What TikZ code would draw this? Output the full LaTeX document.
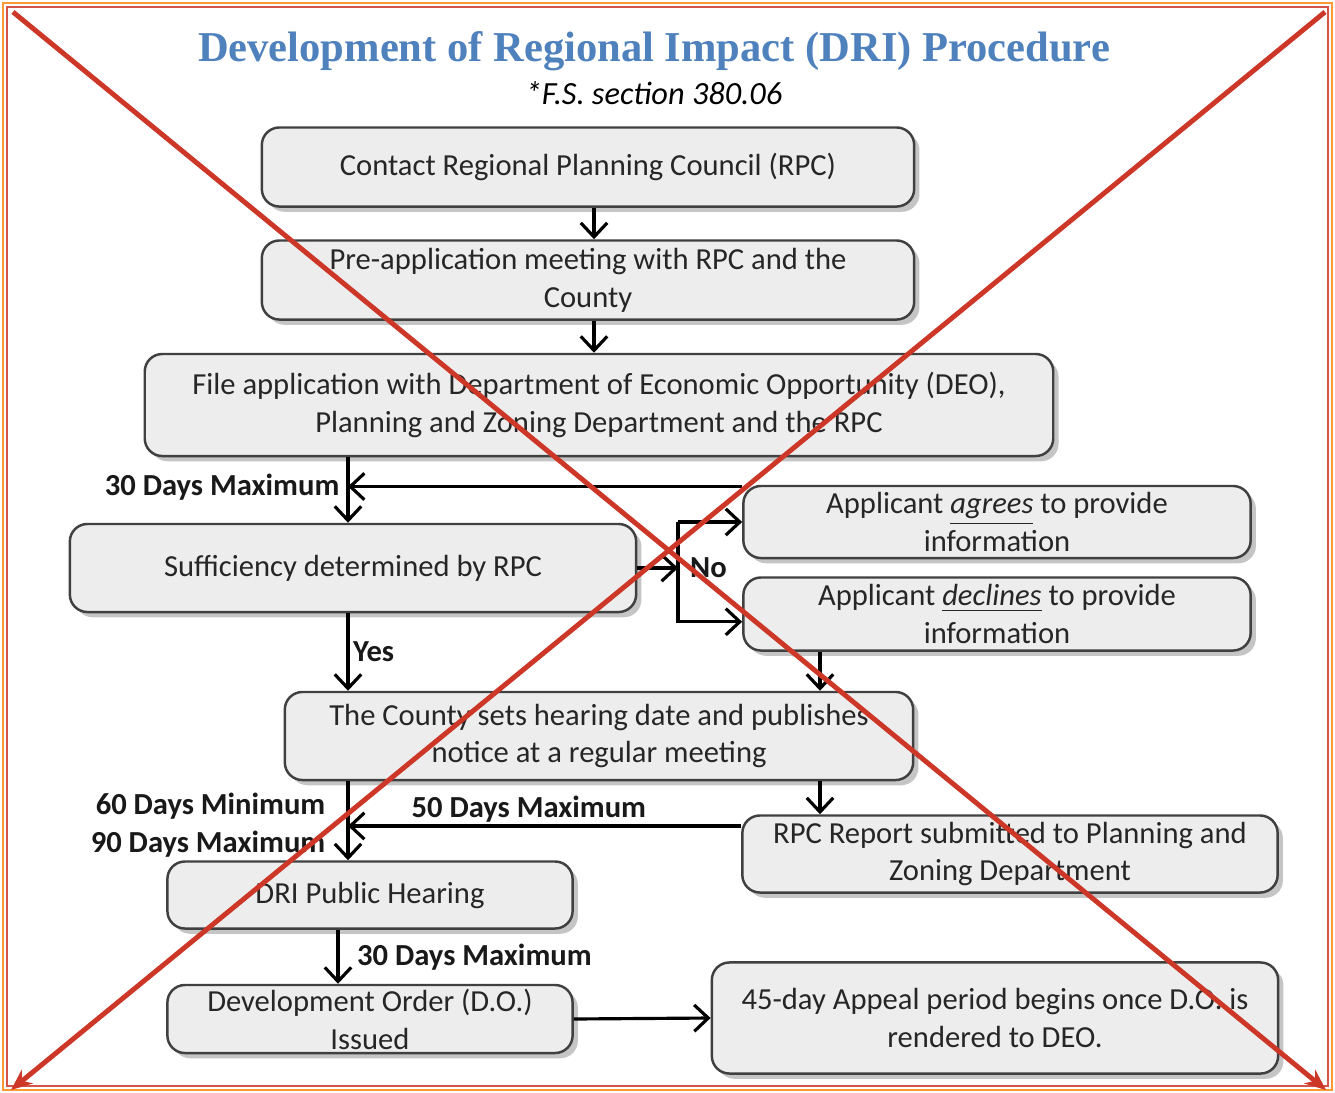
\documentclass[tikz,border=0pt]{standalone}
\usepackage{fontspec}
\setmainfont{Carlito}
\newfontfamily\titlefont{Liberation Serif}
\usepackage{tikz}
\usetikzlibrary{positioning, calc, arrows.meta, shadows}
\definecolor{dritblue}{RGB}{79,129,189}
\definecolor{xred}{RGB}{205,55,40}
\tikzset{dbox/.style={rounded corners=5, draw=black!75, line width=0.7pt, fill=black!7, drop shadow={shadow xshift=1.5pt, shadow yshift=-1.5pt, opacity=0.45}, align=center, inner sep=0pt, text=black!85, font=\fontsize{8.7}{10.8}\selectfont}}
\tikzset{arr/.style={draw, line width=0.9pt, -{Straight Barb[length=4pt, width=7.5pt, line width=0.9pt]}}}
\tikzset{lbl/.style={font=\bfseries\fontsize{8.7}{10.8}\selectfont, inner sep=2pt, text=black!90}}
\tikzset{xline/.style={draw=xred, line width=1.4pt, -{Stealth[length=6pt, width=5pt]}}}

\begin{document}
\begin{tikzpicture}[x=0.01cm, y=-0.01cm]
	\useasboundingbox (0,0) rectangle (1335,1093);
	\fill[white] (0,0) rectangle (1335,1093);
	%
	\node[font=\titlefont\bfseries\fontsize{12.1}{14}\selectfont, text=dritblue] (T) at (654,51) {Development of Regional Impact (DRI) Procedure};
	\node[font=\itshape\fontsize{9.2}{11}\selectfont] (S) at (654,93) {*F.S. section 380.06};
	%
	\node[dbox, minimum width=6.52cm, minimum height=0.79cm] (RPC) at (588,167) {Contact Regional Planning Council (RPC)};
	\node[dbox, minimum width=6.52cm, minimum height=0.79cm] (Pre) at (588,280) {Pre-application meeting with RPC and the\\County};
	\node[dbox, minimum width=9.08cm, minimum height=1.02cm] (File) at (599,405) {File application with Department of Economic Opportunity (DEO),\\Planning and Zoning Department and the RPC};
	\node[dbox, minimum width=5.66cm, minimum height=0.88cm] (Suff) at (353,568) {Sufficiency determined by RPC};
	\node[dbox, minimum width=5.07cm, minimum height=0.72cm] (Agr) at (997,522) {Applicant \underline{\textit{agrees}} to provide\\information};
	\node[dbox, minimum width=5.07cm, minimum height=0.73cm] (Dec) at (997,614) {Applicant \underline{\textit{declines}} to provide\\information};
	\node[dbox, minimum width=6.28cm, minimum height=0.88cm] (Cty) at (599,736) {The County sets hearing date and publishes\\notice at a regular meeting};
	\node[dbox, minimum width=5.35cm, minimum height=0.77cm] (Rep) at (1010,854) {RPC Report submitted to Planning and\\Zoning Department};
	\node[dbox, minimum width=4.05cm, minimum height=0.67cm] (Hear) at (370,895) {DRI Public Hearing};
	\node[dbox, minimum width=4.05cm, minimum height=0.68cm] (DO) at (370,1019) {Development Order (D.O.)\\Issued};
	\node[dbox, minimum width=5.66cm, minimum height=1.11cm] (App) at (995,1018) {45-day Appeal period begins once D.O. is\\rendered to DEO.};
	%
	\coordinate (colA) at (348,0);
	\coordinate (colB) at (820,0);
	\coordinate (colC) at (338,0);
	\coordinate (colD) at (594,0);
	\coordinate (split) at (678,0);
	%
	\draw[arr] (RPC.south -| colD) -- (Pre.north -| colD);
	\draw[arr] (Pre.south -| colD) -- (File.north -| colD);
	\draw[arr] (File.south -| colA) -- (Suff.north -| colA) node[lbl, pos=0.45, left] {30 Days Maximum};
	\draw[arr] ([yshift=-0.5pt]Agr.north west) -- ([yshift=-0.5pt]Agr.north west -| colA);
	\draw[arr] (Suff.east) -- (Suff.east -| split) node[lbl, right=1pt] {No};
	\draw[arr] (Agr.west -| split) -- (Agr.west);
	\draw[arr] (Agr.west -| split) |- ([yshift=-2.2pt]Dec.west);
	\draw[arr] (Suff.south -| colA) -- (Cty.north -| colA) node[lbl, midway, right=-1pt] {Yes};
	\draw[arr] (Dec.south -| colB) -- (Cty.north -| colB);
	\draw[arr] (Cty.south -| colB) -- (Rep.north -| colB);
	\draw[arr] (Cty.south -| colA) -- (Hear.north -| colA) node[lbl, pos=0.55, left=4pt, align=right] {60 Days Minimum\\90 Days Maximum};
	\draw[arr] ([yshift=0.28cm]Rep.west) -- ([yshift=0.28cm]Rep.west -| colA) node[lbl, pos=0.54, above=-1.5pt] {50 Days Maximum};
	\draw[arr] (Hear.south -| colC) -- (DO.north -| colC) node[lbl, midway, right=3pt] {30 Days Maximum};
	\draw[arr] (DO.east) -- (App.west);
	%
	\draw[orange!80, line width=0.6pt] (3,3) rectangle (1332,1090);
	\draw[xred!85, line width=0.8pt] (7,7) rectangle (1328,1086);
	\draw[xline] (13,12) -- (1326,1090);
	\draw[xline] (1325,12) -- (11,1090);
\end{tikzpicture}
\end{document}
